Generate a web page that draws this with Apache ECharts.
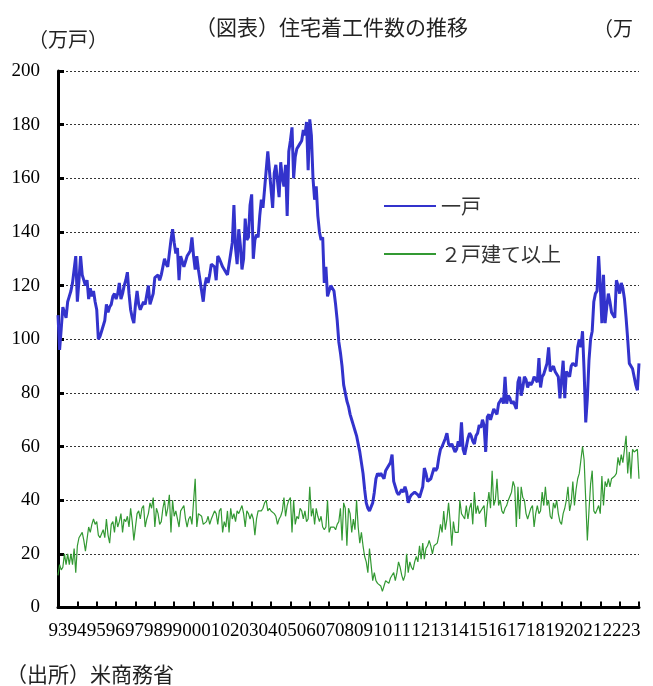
<!DOCTYPE html>
<html>
<head>
<meta charset="utf-8">
<script src="https://cdn.jsdelivr.net/npm/echarts@6/dist/echarts.min.js"></script>
<style>
html, body { margin: 0; padding: 0; background: #fff; }
#chart { width: 653px; height: 686px; }
</style>
</head>
<body>
<div id="chart"></div>
<script>
// monthly, Jan 1993 .. Jan 2023 (万戸, annual rate)
const yearLabels = ['93', '94', '95', '96', '97', '98', '99', '00', '01', '02', '03',
    '04', '05', '06', '07', '08', '09', '10', '11', '12', '13', '14', '15', '16', '17',
    '18', '19', '20', '21', '22', '23']

const seriesNames = ['一戸', '２戸建て以上']

const singleFamily = [
    109, 96, 104, 112, 110, 108, 114, 116, 118, 121, 126, 131,
    114, 122, 131, 124, 124, 120, 122, 115, 119, 116, 118, 114,
    111, 100, 101, 103, 103, 107, 113, 110, 112, 113, 116, 117,
    115, 117, 121, 115, 117, 120, 122, 125, 117, 111, 108, 106,
    113, 118, 113, 111, 111, 114, 113, 113, 120, 113, 115, 117,
    123, 123, 124, 122, 124, 127, 130, 128, 127, 132, 137, 141,
    136, 132, 134, 122, 131, 129, 127, 129, 131, 132, 133, 138,
    131, 126, 131, 126, 122, 118, 114, 120, 123, 121, 124, 128,
    128, 127, 122, 131, 130, 130, 127, 126, 125, 124, 128, 132,
    136, 150, 134, 128, 141, 135, 126, 130, 145, 137, 138, 150,
    154, 130, 137, 139, 138, 146, 152, 149, 156, 163, 170, 163,
    156, 149, 162, 165, 165, 153, 166, 160, 157, 165, 146, 170,
    174, 179, 160, 168, 171, 172, 172, 174, 178, 176, 181, 163,
    182, 176, 160, 152, 157, 146, 140, 137, 138, 121, 127, 116,
    116, 120, 120, 118, 113, 107, 99, 95, 90, 83, 80, 77,
    75, 72, 70, 68, 66, 64, 61, 58, 54, 50, 44, 39,
    37, 36, 36, 39, 43, 48, 50, 49, 50, 49, 48, 51,
    52, 53, 54, 57, 47, 45, 43, 42, 43, 44, 43, 45,
    43, 39, 41, 42, 42, 43, 43, 42, 41, 43, 45, 52,
    50, 47, 47, 48, 50, 52, 51, 52, 56, 59, 60, 60,
    63, 65, 61, 60, 61, 61, 58, 59, 62, 60, 69, 59,
    57, 57, 63, 65, 64, 62, 61, 64, 65, 68, 67, 70,
    68, 58, 71, 72, 70, 72, 74, 73, 72, 76, 77, 78,
    76, 86, 76, 79, 78, 76, 77, 77, 74, 84, 86, 79,
    82, 86, 85, 82, 84, 83, 84, 86, 85, 84, 93, 82,
    86, 87, 89, 91, 97, 88, 89, 90, 88, 88, 86, 78,
    78, 92, 78, 88, 87, 86, 90, 91, 91, 90, 97, 100,
    97, 103, 88, 69, 78, 92, 100, 103, 114, 117, 118, 131,
    120, 106, 124, 106, 112, 117, 114, 110, 109, 108, 122, 120,
    117, 121, 119, 115, 108, 100, 91, 91, 89, 86, 83, 81,
    91
]

const multiFamily = [
    12, 16, 14, 15, 20, 16, 20, 16, 20, 16, 22, 13,
    23, 26, 26, 28, 25, 21, 21, 30, 28, 31, 33, 31,
    32, 27, 26, 26, 29, 26, 33, 27, 24, 31, 32, 28,
    34, 30, 32, 35, 28, 33, 32, 34, 30, 37, 32, 25,
    30, 35, 36, 33, 37, 38, 30, 33, 35, 39, 37, 41,
    30, 37, 35, 31, 32, 37, 40, 34, 37, 42, 28, 40,
    34, 36, 33, 30, 36, 36, 38, 33, 30, 33, 34, 31,
    31, 48, 30, 35, 35, 34, 31, 31, 32, 34, 31, 33,
    33, 36, 35, 31, 36, 37, 28, 32, 30, 36, 28, 37,
    33, 35, 32, 36, 35, 35, 38, 35, 30, 36, 35, 33,
    35, 33, 27, 33, 36, 36, 36, 37, 39, 40, 36, 37,
    36, 36, 35, 34, 31, 33, 34, 36, 41, 34, 38, 40,
    41, 28, 40, 31, 34, 33, 37, 36, 33, 36, 32, 33,
    45, 34, 37, 31, 37, 34, 32, 34, 30, 29, 30, 40,
    28, 30, 30, 30, 29, 31, 32, 37, 25, 39, 37, 23,
    37, 35, 28, 33, 29, 40, 30, 24, 28, 23, 19, 17,
    13, 22, 16, 10, 13, 10, 9, 9, 8, 6, 8, 10,
    10, 9, 11, 12, 13, 10, 13, 17, 15, 12, 10, 12,
    20, 13, 17, 15, 14, 17, 19, 17, 23, 18, 24, 18,
    22, 23, 25, 23, 20, 23, 23, 24, 27, 31, 28, 36,
    29, 33, 39, 32, 23, 32, 28, 28, 28, 40, 35, 34,
    33, 38, 33, 37, 39, 31, 43, 35, 38, 35, 36, 37,
    38, 30, 38, 43, 37, 51, 38, 40, 48, 38, 40, 36,
    35, 37, 38, 40, 40, 43, 47, 45, 30, 45, 33, 45,
    41, 40, 35, 33, 35, 37, 38, 30, 35, 38, 35, 36,
    43, 38, 45, 38, 40, 34, 33, 39, 37, 40, 35, 32,
    31, 35, 37, 40, 45, 36, 39, 47, 38, 44, 48, 50,
    55, 60, 55, 40, 25, 36, 46, 51, 36, 35, 35, 38,
    35, 49, 38, 47, 45, 48, 45, 48, 48, 49, 50, 56,
    53, 57, 54, 59, 64, 50, 58, 48, 59, 58, 58, 59,
    48
]

const serif = 'Liberation Serif'
const jp = 'Noto Sans CJK JP'

const chart = echarts.init(document.getElementById('chart'))

const toPoints = (arr) => arr.map((v, i) => [i, v])

chart.setOption({
    animation: false,
    title: [
        {
            text: '（図表）住宅着工件数の推移',
            left: 195, top: 17, padding: 0,
            textStyle: { fontFamily: jp, fontSize: 21, fontWeight: 'normal', color: '#222' }
        },
        {
            text: '（万戸）',
            left: 28, top: 29, padding: 0,
            textStyle: { fontFamily: jp, fontSize: 20, fontWeight: 'normal', color: '#222' }
        },
        {
            text: '（万',
            left: 593, top: 18, padding: 0,
            textStyle: { fontFamily: jp, fontSize: 20, fontWeight: 'normal', color: '#222' }
        },
        {
            text: '（出所）米商務省',
            left: 6, top: 664, padding: 0,
            textStyle: { fontFamily: jp, fontSize: 21, fontWeight: 'normal', color: '#222' }
        }
    ],
    legend: {
        data: seriesNames,
        orient: 'vertical',
        left: 383, top: 196,
        padding: 0,
        itemWidth: 52, itemHeight: 14, itemGap: 28,
        itemStyle: { opacity: 0 },
        textStyle: { fontFamily: jp, fontSize: 20, color: '#333' }
    },
    grid: { left: 58, right: 14, top: 71, bottom: 78.5, outerBoundsMode: 'none' },
    xAxis: [
        {
            type: 'value', min: 0, max: 360, interval: 12,
            axisLine: { onZero: false, lineStyle: { color: '#000', width: 3 } },
            axisTick: { inside: true, length: 6, lineStyle: { color: '#000', width: 2 } },
            axisLabel: { show: false },
            splitLine: { show: false }
        },
        {
            // labels only, slightly tighter than the ticks like the source
            type: 'value', min: 0, max: 365, interval: 12, position: 'bottom',
            axisLine: { show: false },
            axisTick: { show: false },
            splitLine: { show: false },
            axisLabel: {
                margin: 14, fontFamily: serif, fontSize: 19, color: '#000',
                showMinLabel: true, showMaxLabel: true,
                formatter: (v) => (v % 12 === 0 && v <= 360) ? yearLabels[v / 12] : ''
            }
        }
    ],
    yAxis: {
        type: 'value', min: 0, max: 200, interval: 20,
        axisLine: { show: true, onZero: false, lineStyle: { color: '#000', width: 3 } },
        axisTick: { show: true, inside: true, length: 6, lineStyle: { color: '#000', width: 3 } },
        axisLabel: { margin: 18, fontFamily: serif, fontSize: 19, color: '#000' },
        splitLine: { lineStyle: { type: [2, 2], color: '#333', width: 1 } }
    },
    series: [
        {
            name: seriesNames[0], type: 'line', xAxisIndex: 0,
            data: toPoints(singleFamily),
            symbol: 'none', showSymbol: false,
            lineStyle: { color: '#3333cc', width: 3 },
            itemStyle: { color: '#3333cc' }
        },
        {
            name: seriesNames[1], type: 'line', xAxisIndex: 0,
            data: toPoints(multiFamily),
            symbol: 'none', showSymbol: false,
            lineStyle: { color: '#339933', width: 1.2 },
            itemStyle: { color: '#339933' }
        }
    ]
})

window.addEventListener('resize', () => chart.resize())
</script>
</body>
</html>
